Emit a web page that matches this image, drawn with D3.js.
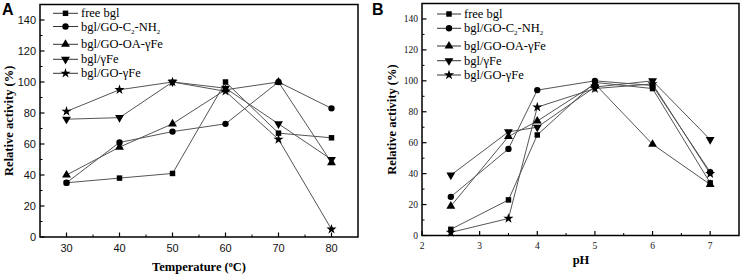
<!DOCTYPE html>
<html>
<head>
    <meta charset="utf-8">
    <title>relative activity</title>
    <script type="text/javascript" src="https://cdn.jsdelivr.net/npm/d3@7"></script>
    <style>
      body { margin: 0; background: #fff; }
      svg { display: block; }
    </style>
</head>
<body>
<script type="text/javascript">

var width = 743
var height = 276

// series names and x values
var seriesNames = ["free bgl", "bgl/GO-C2-NH2", "bgl/GO-OA-γFe", "bgl/γFe", "bgl/GO-γFe"]
var tempX = [30, 40, 50, 60, 70, 80]
var phX = [2.5, 3.5, 4, 5, 6, 7]

// panel A - temperature
var tempFree = [35, 38, 41, 100, 67, 64]
var tempNH2 = [35, 61, 68, 73, 100, 83]
var tempOA = [40, 58, 73, 95, 100, 48]
var tempFe = [76, 77, 100, 96, 73, 50]
var tempGO = [81, 95, 100, 94, 63, 5]

// panel B - pH
var phFree = [4, 23, 65, 99, 95, 34]
var phNH2 = [25, 56, 94, 100, 97, 41]
var phOA = [19, 64, 74, 98, 59, 33]
var phFe = [39, 67, 70, 96, 100, 62]
var phGO = [2, 11, 83, 95, 98, 40]

var yTicks = [0, 20, 40, 60, 80, 100, 120, 140]
var tempTicks = [30, 40, 50, 60, 70, 80]
var phTicks = [2, 3, 4, 5, 6, 7]

var svg = d3.select("body").append("svg").attr("width", width).attr("height", height)

var symbols = [
    d3.symbol().type(d3.symbolSquare).size(30),
    d3.symbol().type(d3.symbolCircle).size(32),
    d3.symbol().type(d3.symbolTriangle).size(34),
    d3.symbol().type(d3.symbolTriangle).size(34),
    d3.symbol().type(d3.symbolStar).size(32)
]
var rotations = [0, 0, 0, 180, 0]

function drawPanel(opt) {
    var x = d3.scaleLinear().domain(opt.xDomain).range([opt.left, opt.right])
    var y = d3.scaleLinear().domain([0, 150]).range([opt.bottom, opt.top])
    var g = svg.append("g")

    // minor ticks
    var yMinor = d3.range(10, 150, 20)
    g.selectAll(".ym").data(yMinor).enter().append("line")
        .attr("x1", opt.left).attr("x2", opt.left + 2.5)
        .attr("y1", function(d) { return y(d) }).attr("y2", function(d) { return y(d) })
        .attr("stroke", "#000").attr("stroke-width", 1)
    g.selectAll(".xm").data(opt.xMinor).enter().append("line")
        .attr("x1", function(d) { return x(d) }).attr("x2", function(d) { return x(d) })
        .attr("y1", opt.bottom).attr("y2", opt.bottom - 2.5)
        .attr("stroke", "#000").attr("stroke-width", 1)

    // major ticks
    g.selectAll(".yt").data(yTicks).enter().append("line")
        .attr("x1", opt.left).attr("x2", opt.left + 4.5)
        .attr("y1", function(d) { return y(d) }).attr("y2", function(d) { return y(d) })
        .attr("stroke", "#000").attr("stroke-width", 1.2)
    g.selectAll(".xt").data(opt.xTicks).enter().append("line")
        .attr("x1", function(d) { return x(d) }).attr("x2", function(d) { return x(d) })
        .attr("y1", opt.bottom).attr("y2", opt.bottom - 4.5)
        .attr("stroke", "#000").attr("stroke-width", 1.2)

    // tick labels
    g.selectAll(".yl").data(yTicks).enter().append("text")
        .attr("x", opt.left - 4).attr("y", function(d) { return y(d) })
        .attr("dy", "0.35em").attr("text-anchor", "end")
        .attr("font-family", opt.tickFont).attr("font-size", opt.tickSize)
        .attr("fill", "#111")
        .text(function(d) { return d })
    g.selectAll(".xl").data(opt.xTicks).enter().append("text")
        .attr("x", function(d) { return x(d) }).attr("y", opt.bottom + opt.xLabelOff)
        .attr("text-anchor", "middle")
        .attr("font-family", opt.tickFont).attr("font-size", opt.tickSize)
        .attr("fill", "#111")
        .text(function(d) { return d })

    // series lines and markers
    opt.series.forEach(function(vals, i) {
        var pts = opt.xs.map(function(xv, j) { return [x(xv), y(vals[j])] })
        g.append("path")
            .attr("d", d3.line()(pts))
            .attr("fill", "none").attr("stroke", "#555").attr("stroke-width", 1)
    })
    opt.series.forEach(function(vals, i) {
        g.selectAll(".m" + i).data(vals).enter().append("path")
            .attr("d", symbols[i])
            .attr("transform", function(d, j) {
                return "translate(" + x(opt.xs[j]) + "," + y(d) + ") rotate(" + rotations[i] + ")"
            })
            .attr("fill", "#000")
    })

    // frame
    g.append("rect")
        .attr("x", opt.left).attr("y", opt.top)
        .attr("width", opt.right - opt.left).attr("height", opt.bottom - opt.top)
        .attr("fill", "none").attr("stroke", "#000").attr("stroke-width", 1.5)

    // legend
    opt.legendY.forEach(function(ly, i) {
        g.append("line")
            .attr("x1", opt.legX1).attr("x2", opt.legX2)
            .attr("y1", ly).attr("y2", ly)
            .attr("stroke", "#333").attr("stroke-width", 1)
        g.append("path")
            .attr("d", symbols[i])
            .attr("transform", "translate(" + ((opt.legX1 + opt.legX2) / 2) + "," + ly + ") rotate(" + rotations[i] + ")")
            .attr("fill", "#000")
        var t = g.append("text")
            .attr("x", opt.legX2 + 3).attr("y", ly).attr("dy", "0.33em")
            .attr("font-family", "Liberation Serif, Times New Roman, serif")
            .attr("font-size", 12.5).attr("fill", "#000")
        if (i == 1) {
            t.append("tspan").text("bgl/GO-C")
            t.append("tspan").attr("font-size", 7).attr("dy", 3).text("2")
            t.append("tspan").attr("dy", -3).text("-NH")
            t.append("tspan").attr("font-size", 7).attr("dy", 3).text("2")
        } else {
            t.text(seriesNames[i])
        }
    })

    // axis titles
    g.append("text")
        .attr("transform", "translate(" + opt.yTitleX + "," + ((opt.top + opt.bottom) / 2) + ") rotate(-90)")
        .attr("text-anchor", "middle").attr("dy", "0.35em")
        .attr("font-family", "Liberation Serif, Times New Roman, serif")
        .attr("font-weight", "bold").attr("font-size", 12.5)
        .text("Relative activity (%)")
    var xt = g.append("text")
        .attr("x", opt.xTitleX).attr("y", opt.xTitleY)
        .attr("text-anchor", "middle")
        .attr("font-family", "Liberation Serif, Times New Roman, serif")
        .attr("font-weight", "bold").attr("font-size", 12.5)
    if (opt.xTitle == "temp") {
        xt.append("tspan").text("Temperature (")
        xt.append("tspan").attr("font-size", 8).attr("dy", -4).text("o")
        xt.append("tspan").attr("dy", 4).text("C)")
    } else {
        xt.text(opt.xTitle)
    }

    // panel letter
    g.append("text")
        .attr("x", opt.letterX).attr("y", 15)
        .attr("font-family", "Liberation Sans, Arial, sans-serif")
        .attr("font-weight", "bold").attr("font-size", 16)
        .text(opt.letter)
}

drawPanel({
    xDomain: [25, 85], left: 40, right: 358, top: 4.5, bottom: 237,
    xs: tempX, xTicks: tempTicks, xMinor: [35, 45, 55, 65, 75],
    series: [tempFree, tempNH2, tempOA, tempFe, tempGO],
    tickFont: "Liberation Sans, Arial, sans-serif", tickSize: 11, xLabelOff: 15,
    legendY: [13.3, 26.5, 44.3, 59.3, 73.3], legX1: 53, legX2: 78,
    yTitleX: 9, xTitleX: 199, xTitleY: 271, xTitle: "temp",
    letter: "A", letterX: 2
})

drawPanel({
    xDomain: [2, 7.5], left: 422, right: 739, top: 3.5, bottom: 235.5,
    xs: phX, xTicks: phTicks, xMinor: [2.5, 3.5, 4.5, 5.5, 6.5],
    series: [phFree, phNH2, phOA, phFe, phGO],
    tickFont: "Liberation Serif, Times New Roman, serif", tickSize: 9.5, xLabelOff: 13,
    legendY: [14, 28.3, 46, 60.7, 75], legX1: 437, legX2: 461,
    yTitleX: 392, xTitleX: 581, xTitleY: 264, xTitle: "pH",
    letter: "B", letterX: 372
})

</script>
</body>
</html>
